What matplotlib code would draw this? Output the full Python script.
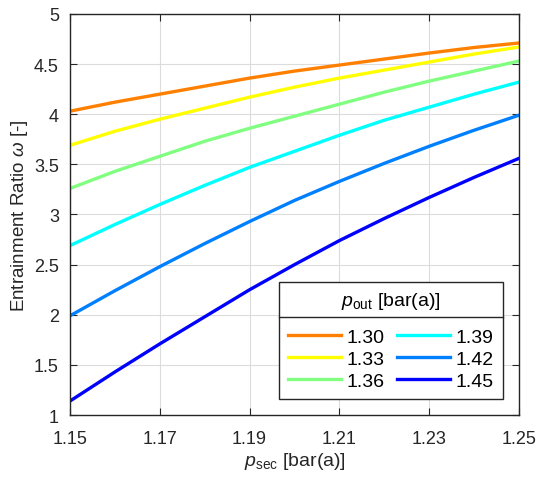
import matplotlib.pyplot as plt
from matplotlib.lines import Line2D

plt.rcParams['font.family'] = ['Liberation Sans', 'DejaVu Sans']
plt.rcParams['mathtext.fontset'] = 'custom'
plt.rcParams['mathtext.it'] = 'Liberation Sans:italic'
plt.rcParams['mathtext.rm'] = 'Liberation Sans'

# secondary pressure [bar(a)]
p_sec = [1.15, 1.16, 1.17, 1.18, 1.19, 1.20, 1.21, 1.22, 1.23, 1.24, 1.25]

# outlet pressures and entrainment ratio curves
p_out_labels = ['1.30', '1.33', '1.36', '1.39', '1.42', '1.45']
omega_130 = [4.03, 4.12, 4.20, 4.28, 4.36, 4.43, 4.49, 4.55, 4.61, 4.665, 4.71]
omega_133 = [3.69, 3.83, 3.95, 4.06, 4.17, 4.27, 4.36, 4.44, 4.52, 4.60, 4.67]
omega_136 = [3.26, 3.43, 3.58, 3.73, 3.86, 3.98, 4.10, 4.22, 4.33, 4.43, 4.53]
omega_139 = [2.69, 2.90, 3.10, 3.29, 3.47, 3.63, 3.79, 3.94, 4.07, 4.20, 4.32]
omega_142 = [1.99, 2.24, 2.48, 2.71, 2.93, 3.14, 3.33, 3.51, 3.68, 3.84, 3.99]
omega_145 = [1.14, 1.43, 1.71, 1.98, 2.25, 2.50, 2.74, 2.96, 3.17, 3.37, 3.56]

colors = ['#FF8000', '#FFFF00', '#80FF80', '#00FFFF', '#0080FF', '#0000FF']
curves = [omega_130, omega_133, omega_136, omega_139, omega_142, omega_145]

fig = plt.figure(figsize=(5.37, 4.81), dpi=100)
ax = fig.add_axes([0.1304, 0.135, 0.8361, 0.834])

for y, c, lab in zip(curves, colors, p_out_labels):
    ax.plot(p_sec, y, color=c, linewidth=2.4, label=lab)

ax.set_xlim(1.15, 1.25)
ax.set_ylim(1, 5)
ax.set_xticks([1.15, 1.17, 1.19, 1.21, 1.23, 1.25])
ax.set_yticks([1, 1.5, 2, 2.5, 3, 3.5, 4, 4.5, 5])
ax.set_yticklabels(['1', '1.5', '2', '2.5', '3', '3.5', '4', '4.5', '5'])
ax.grid(True, color='#dcdcdc', linewidth=0.8)
ax.set_axisbelow(True)
ax.tick_params(direction='in', top=True, right=True, labelsize=13,
               colors='#262626', length=5)
ax.tick_params(axis='x', pad=11)
ax.tick_params(axis='y', pad=8)
for s in ax.spines.values():
    s.set_color('#262626')
    s.set_linewidth(1.0)

ax.set_xlabel(r'$p_{\mathrm{sec}}$ [bar(a)]', fontsize=14, color='#262626', labelpad=2)
ax.set_ylabel(r'Entrainment Ratio $\omega$ [-]', fontsize=13.5, color='#262626', labelpad=3)

leg = ax.legend(ncol=2, title=r'$p_{\mathrm{out}}$ [bar(a)]', fontsize=14,
                title_fontsize=14, loc='lower right',
                bbox_to_anchor=(0.964, 0.04), borderaxespad=0, fancybox=False,
                edgecolor='#262626', framealpha=1, handlelength=2.75,
                columnspacing=0.6, handletextpad=0.3, labelspacing=0.24,
                borderpad=0.45)
leg.get_frame().set_linewidth(1.0)
leg._legend_box.sep = 12

# separator line under the legend title
fig.canvas.draw()
r = fig.canvas.get_renderer()
lb = leg.get_window_extent(r)
tb = leg.get_title().get_window_extent(r)
inv = fig.transFigure.inverted()
ysep = tb.y0 - 6
(x0, y0), (x1, _) = inv.transform([(lb.x0, ysep), (lb.x1, ysep)])
fig.add_artist(Line2D([x0, x1], [y0, y0], color='#262626', linewidth=1.0,
                      transform=fig.transFigure, zorder=10))

fig.savefig('out.png', dpi=100)
